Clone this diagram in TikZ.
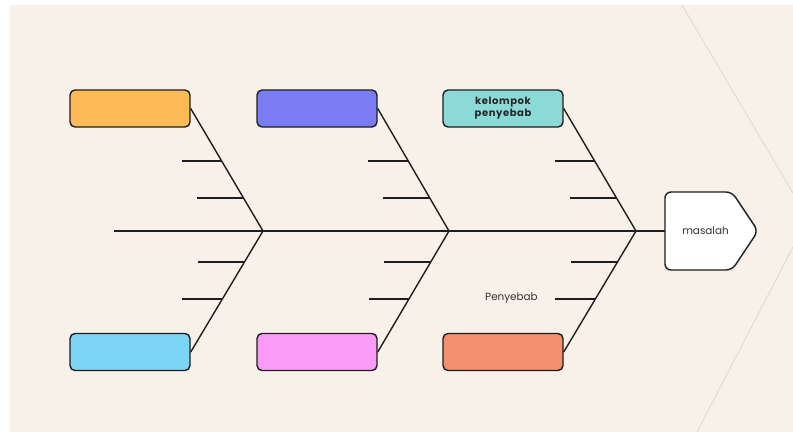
\documentclass[tikz,border=0pt]{standalone}
\usepackage{fontspec}
\setmainfont{Poppins}
\newfontfamily\spacedbold[LetterSpace=6]{Poppins}
\usetikzlibrary{calc}
\definecolor{bgbeige}{HTML}{F7F1EA}
\definecolor{faint}{HTML}{DED6CC}
\definecolor{inkc}{HTML}{1E1E1E}
\definecolor{cOrange}{HTML}{FDBA56}
\definecolor{cViolet}{HTML}{7A7CF3}
\definecolor{cTeal}{HTML}{8BDAD8}
\definecolor{cSky}{HTML}{7DD5F6}
\definecolor{cPink}{HTML}{FC9AF8}
\definecolor{cSalmon}{HTML}{F5906F}
\tikzset{
  catbox/.style={draw=inkc, line width=1.4pt, rounded corners=5pt, minimum width=120pt, minimum height=37pt, inner sep=0pt, align=center},
  bone/.style={draw=inkc, line width=1.4pt},
  lbl/.style={font=\fontsize{10.4}{12}\selectfont, text=black!80},
}
\begin{document}
\begin{tikzpicture}[x=1pt,y=-1pt]
\useasboundingbox (0,0) rectangle (793,432);
\fill[white] (0,0) rectangle (793,432);
\fill[bgbeige] (10,5) rectangle (793,432);
% faint chevron
\draw[faint, line width=0.7pt] (682,5) -- (793,193);
\draw[faint, line width=0.7pt] (793,247) -- (697,432);

% boxes
\node[catbox, fill=cOrange] (b1) at (130,108.5) {};
\node[catbox, fill=cViolet] (b2) at (317,108.5) {};
\node[catbox, fill=cTeal, font=\spacedbold\fontsize{10}{12}\selectfont\bfseries, text=black!85] (b3) at (503,108.5) {kelompok\\penyebab};
\node[catbox, fill=cSky] (c1) at (130,352) {};
\node[catbox, fill=cPink] (c2) at (317,352) {};
\node[catbox, fill=cSalmon] (c3) at (503,352) {};

% junctions
\coordinate (j1) at (263,231);
\coordinate (j2) at (449,231);
\coordinate (j3) at (636,231);
\coordinate (tail) at (114,231);
\coordinate (mw) at (665,231);

% masalah head
\draw[inkc, line width=1.4pt, fill=white, rounded corners=6pt]
  (665,192) -- (732,192) -- (758,231) -- (732,270) -- (665,270) -- cycle;
\node[lbl] (m) at (705.5,231) {masalah};

% spine
\draw[bone] (tail) -- (j1) -- (j2) -- (j3) -- (mw);

% bones and ribs
\foreach \i in {1,2,3} {
  \draw[bone] (b\i.east) -- (j\i) -- (c\i.east);
  \coordinate (u\i a) at ($(b\i.east)!0.4286!(j\i)$);
  \coordinate (u\i b) at ($(b\i.east)!0.7306!(j\i)$);
  \coordinate (l\i a) at ($(c\i.east)!0.438!(j\i)$);
  \coordinate (l\i b) at ($(c\i.east)!0.7438!(j\i)$);
  \coordinate (u\i as) at ([xshift=-40pt]u\i a);
  \coordinate (u\i bs) at ([xshift=-46.5pt]u\i b);
  \coordinate (l\i as) at ([xshift=-40pt]l\i a);
  \coordinate (l\i bs) at ([xshift=-46.5pt]l\i b);
  \draw[bone] (u\i as) -- (u\i a);
  \draw[bone] (u\i bs) -- (u\i b);
  \draw[bone] (l\i as) -- (l\i a);
  \draw[bone] (l\i bs) -- (l\i b);
}
\node[lbl] (p) at (511.5,298) {Penyebab};
\end{tikzpicture}
\end{document}
